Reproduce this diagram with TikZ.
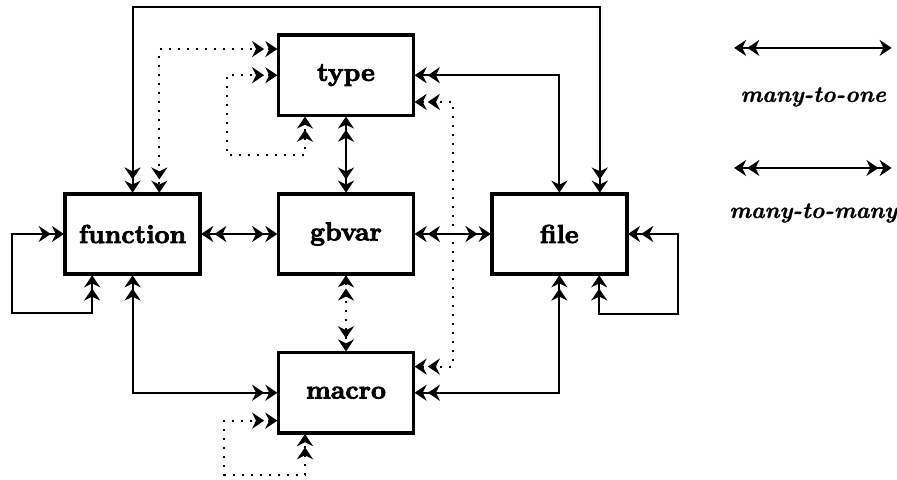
\documentclass[tikz,border=0pt]{standalone}
\usepackage{fontspec}
\usepackage{tikz}
\usetikzlibrary{arrows.meta, positioning}
\newfontfamily\heavyfont{lmroman10-bold}[Extension=.otf, FakeBold=3]
\newfontfamily\legendfont{lmroman10-bolditalic}[Extension=.otf, FakeBold=1]

\begin{document}
\begin{tikzpicture}[node distance=3.75cm, auto,
        >={Stealth[length=6pt, width=8pt, sep=0.6pt]},
        box/.style={rectangle, draw, line width=1.8pt, outer sep=0pt, minimum width=2.37cm, minimum height=1.41cm, font=\fontsize{13}{15}\selectfont\heavyfont},
        link/.style={line width=1pt},
        weak/.style={line width=1pt, dash pattern=on 1pt off 3.5pt},
        legend/.style={font=\fontsize{11.5}{13}\selectfont\legendfont}]
        \useasboundingbox (-6.08,-4.323) rectangle (9.683,4.112);

        \node (gbvar) [box] {gbvar};
        \node (func) [box, left of=gbvar] {function};
        \node (file) [box, right of=gbvar] {file};
        \node (type) [box, above of=gbvar, yshift=-0.96cm] {type};
        \node (macro) [box, below of=gbvar, yshift=0.96cm] {macro};

        \draw [link, <<->>] (func.east) -- (gbvar.west);
        \draw [link, <<->>] (gbvar.east) -- (file.west);
        \draw [link, <<->>] (type.south) -- (gbvar.north);
        \draw [link, <<->] (type.east) -| (file.north);
        \draw [link, <<->>] (macro.east) -| (file.south);
        \draw [link, <<->>] (macro.west) -| (func.south);
        \draw [link, <<->>] (func.north) -- ++(0,3.29) -| ([xshift=0.71cm]file.north);
        \draw [link, <<->>] (func.west) -- ++(-0.93,0) |- ([xshift=-0.71cm, yshift=-0.69cm]func.south) -- ([xshift=-0.71cm]func.south);
        \draw [link, <<->>] (file.east) -- ++(0.9,0) |- ([xshift=0.7cm, yshift=-0.7cm]file.south) -- ([xshift=0.7cm]file.south);

        \draw [weak, <<->>] (gbvar.south) -- (macro.north);
        \draw [weak, <<->>] ([yshift=0.46cm]type.west) -| ([xshift=0.47cm]func.north);
        \draw [weak, <<->>] ([yshift=-0.47cm]type.east) -- ++(0.69,0) |- ([yshift=0.46cm]macro.east);
        \draw [weak, <<->>] (type.west) -- ++(-0.91,0) |- ([xshift=-0.72cm, yshift=-0.7cm]type.south) -- ([xshift=-0.72cm]type.south);
        \draw [weak, <<->>] ([yshift=-0.49cm]macro.west) -- ++(-0.95,0) |- ([xshift=-0.72cm, yshift=-0.74cm]macro.south) -- ([xshift=-0.72cm]macro.south);

        % legend
        \coordinate (one1) at (6.80,3.27);
        \coordinate (one2) at (9.61,3.27);
        \coordinate (many1) at (6.80,1.16);
        \coordinate (many2) at (9.61,1.16);
        \draw [link, <<->] (one1) -- (one2);
        \draw [link, <<->>] (many1) -- (many2);
        \node (onetext) [legend] at (8.21,2.41) {many-to-one};
        \node (manytext) [legend] at (8.21,0.37) {many-to-many};
    \end{tikzpicture}
\end{document}
